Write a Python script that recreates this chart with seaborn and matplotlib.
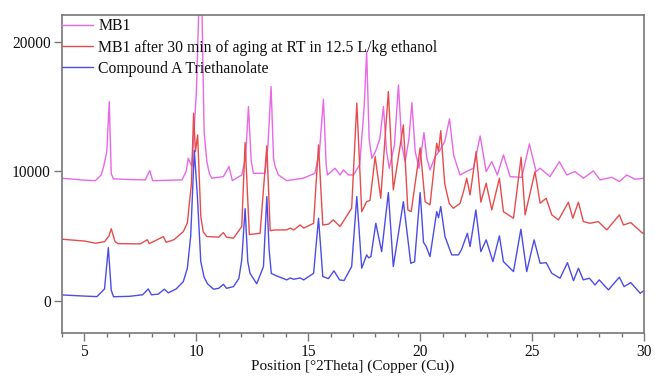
import numpy as np
import pandas as pd
import matplotlib
matplotlib.use("Agg")
import matplotlib.pyplot as plt
from matplotlib.ticker import MultipleLocator
import seaborn as sns

labels = ["MB1",
          "MB1 after 30 min of aging at RT in 12.5 L/kg ethanol",
          "Compound A Triethanolate"]

mb1_x = [4.0, 5.0, 5.49, 5.75, 5.86, 6.0, 6.11, 6.2, 6.3, 7.0, 7.72, 7.92, 8.05, 9.36, 9.55, 9.64,
         9.8, 10.0, 10.13, 10.24, 10.35, 10.47, 10.58, 10.69, 11.21, 11.46, 11.61, 12.03, 12.2,
         12.33, 12.45, 12.55, 13.07, 13.2, 13.34, 13.45, 13.52, 13.67, 14.04, 14.78, 15.3, 15.5,
         15.68, 15.8, 15.86, 16.2, 16.42, 16.57, 16.8, 17.02, 17.3, 17.5, 17.61, 17.72, 17.84, 18.0,
         18.2, 18.36, 18.5, 18.62, 18.85, 19.03, 19.18, 19.33, 19.5, 19.63, 19.78, 19.95, 20.17,
         20.3, 20.44, 20.67, 20.89, 21.1, 21.31, 21.5, 21.78,
         22.15, 22.38, 22.68, 22.95, 23.2, 23.45, 23.72, 24.02, 24.54, 24.88, 25.18, 25.36,
         25.8, 26.22, 26.55, 26.92, 27.29, 27.74, 28.04, 28.56, 28.9, 29.23, 29.6, 30.0]
mb1_y = [9450, 9300, 9260, 9700, 10350, 11500, 15360, 9800, 9400, 9350, 9320, 10040, 9260, 9320,
         10000, 10990, 10350, 16000, 23500, 23500, 13000, 10730, 9830, 9450, 9570, 10350, 9260,
         9700, 11000, 14980, 10800, 9830, 9830, 12000, 16520, 11000, 10350, 9700, 9260, 9450,
         9830, 11500, 15550, 10500, 9700, 10220, 9700, 10090, 9700, 9700, 10500, 15000, 19220,
         12500, 10990, 11500, 12500, 14980, 11500, 10220, 12000, 16650, 12000, 10730, 12500,
         15290, 11500, 10220, 12970, 11000, 10090, 11120, 11630, 12300, 14030, 11200,
         9700, 10040, 10220, 12710, 9960, 10730, 9700, 11250, 9570, 9520, 12100, 9960, 10220,
         9570, 10730, 9700, 9960, 9450, 10010, 9320, 9520, 9190, 9700, 9370, 9450]

aged_x = [4.0, 5.0, 5.5, 5.9, 6.1, 6.2, 6.37, 6.5, 7.5, 7.81, 7.9, 8.53, 8.65, 9.0, 9.42, 9.6,
          9.78, 9.88, 9.96, 10.06, 10.2, 10.31, 10.47, 11.0, 11.21, 11.35, 11.66, 12.03, 12.18,
          12.37, 12.85, 13.15, 13.3, 13.5, 14.04, 14.2, 14.35, 14.64, 14.8, 15.24, 15.46, 15.65,
          15.9, 16.12, 16.42, 16.94, 17.17, 17.39, 17.61, 17.76, 17.99, 18.24, 18.58, 18.8,
          19.25, 19.45, 19.6, 20.0, 20.22, 20.44, 20.74, 20.82, 20.92, 21.1, 21.3, 21.48, 21.78,
          21.95, 22.08, 22.23, 22.5, 22.71, 22.95, 23.2, 23.54, 23.72, 24.17, 24.51, 24.69,
          25.13, 25.36, 25.63, 25.88, 26.18, 26.62, 26.82, 27.07, 27.29, 27.59, 27.96, 28.34,
          28.9, 29.08, 29.41, 29.94, 30.0]
aged_y = [4740, 4600, 4430, 4550, 5000, 5550, 4550, 4400, 4380, 4700, 4400, 4940, 4500, 4700,
          5330, 6000, 9000, 14470, 11500, 12790, 6500, 5300, 4950, 4900, 5250, 4900, 4820, 5720,
          12200, 5100, 5200, 11940, 5400, 5450, 5460, 5600, 5450, 5840, 5600, 5970, 12020, 5840,
          5900, 6230, 5720, 7130, 15240, 6870, 7640, 7740, 11120, 7900, 16140, 8550, 13560, 7000,
          6870, 11800, 7640, 7390, 12150, 11500, 13120, 9000, 7500, 7130, 7500, 8500, 9450, 8160,
          11500, 7600, 9060, 7000, 9450, 6870, 6360, 11070, 6620, 9960, 7520, 7900, 6620, 6230,
          7600, 6360, 7600, 6100, 5970, 6100, 5460, 6620, 5840, 6020, 5200, 5300]

tea_x = [4.0, 5.0, 5.56, 5.9, 6.07, 6.2, 6.3, 7.0, 7.6, 7.85, 8.0, 8.3, 8.57, 8.75, 9.1, 9.42,
         9.6, 9.75, 9.91, 10.05, 10.2, 10.35, 10.5, 10.77, 11.0, 11.21, 11.35, 11.66, 11.9,
         12.03, 12.18, 12.3, 12.4, 12.7, 13.0, 13.15, 13.25, 13.35, 13.6, 14.04, 14.2, 14.35,
         14.64, 14.8, 15.24, 15.46, 15.65, 15.9, 16.15, 16.4, 16.6, 16.94, 17.17, 17.39, 17.61,
         17.7, 17.8, 18.02, 18.28, 18.58, 18.8, 19.25, 19.58, 19.75, 20.0, 20.15, 20.27, 20.44,
         20.74, 20.82, 20.92, 21.11, 21.41, 21.71, 21.85, 22.11, 22.23, 22.49, 22.71, 22.95,
         23.25, 23.54, 23.72, 24.17, 24.5, 24.76, 25.09, 25.36, 25.63, 25.88, 26.25, 26.58,
         26.85, 27.07, 27.29, 27.56, 27.81, 28.0, 28.41, 28.9, 29.11, 29.41, 29.83, 30.0]
tea_y = [440, 350, 310, 900, 4090, 800, 300, 330, 450, 900, 450, 500, 880, 600, 900, 1470, 2500,
         5000, 11600, 8000, 3000, 1800, 1300, 880, 950, 1260, 950, 1080, 1700, 3140, 7100, 3000,
         2110, 1300, 2630, 8030, 4000, 2100, 1900, 1600, 1750, 1650, 1750, 1600, 2110, 6360,
         1860, 1700, 2300, 1600, 1550, 2630, 8030, 2500, 3530, 3300, 3400, 5970, 3780, 8340,
         2630, 7640, 2880, 3000, 8340, 4500, 4170, 3400, 6870, 6400, 7260, 4940, 3530, 3530,
         3950, 5200, 4170, 7000, 3780, 4690, 3010, 5000, 3010, 2240, 5510, 2240, 4690, 2880,
         2930, 2110, 1730, 2930, 1540, 2500, 1600, 1730, 1210, 1600, 830, 1810, 1080, 1390,
         570, 770]

colors = ["#e868e8", "#e64c4c", "#4c4ce6"]

sns.set_theme(style="white")
plt.rcParams["font.family"] = ["Liberation Serif", "DejaVu Serif"]

fig = plt.figure(figsize=(6.55, 3.77), dpi=100)
ax = fig.add_axes([62 / 655, 1 - 333 / 377, (644 - 62) / 655, (333 - 15) / 377])

series = [(mb1_x, mb1_y), (aged_x, aged_y), (tea_x, tea_y)]
for (xs, ys), lab, col in zip(series, labels, colors):
    df = pd.DataFrame({"x": xs, "y": ys})
    sns.lineplot(data=df, x="x", y="y", ax=ax, color=col, linewidth=1.0,
                 label=lab, sort=False, estimator=None)

ax.set_xlim(4, 30)
ax.set_ylim(-2500, 22050)
ax.set_xticks([5, 10, 15, 20, 25, 30])
ax.xaxis.set_minor_locator(MultipleLocator(1))
ax.set_yticks([0, 10000, 20000])
ax.set_yticklabels(["0", "10000", "20000"])
ax.tick_params(axis="both", which="major", direction="out", length=6, width=1,
               color="#777777", labelsize=11.2, pad=2, labelcolor="#111111")
ax.tick_params(axis="x", which="minor", direction="out", length=3, width=1,
               color="#777777", bottom=True)
ax.tick_params(axis="x", which="major", bottom=True)
ax.tick_params(axis="y", which="major", left=True)
for s in ax.spines.values():
    s.set_color("#777777")
    s.set_linewidth(1.2)

ax.set_xlabel("Position [°2Theta] (Copper (Cu))", fontsize=11, color="#111111")
ax.xaxis.set_label_coords(0.5, -0.084)
ax.set_ylabel("")

leg = ax.legend(loc="upper left", bbox_to_anchor=(0, 1 - 3.5 / 318), frameon=False,
                fontsize=11.3, handlelength=2.0, handletextpad=0.3, labelspacing=0.33,
                borderaxespad=0.0, borderpad=0.0)
for t in leg.get_texts():
    t.set_color("#111111")

fig.savefig("out.png", dpi=100)
